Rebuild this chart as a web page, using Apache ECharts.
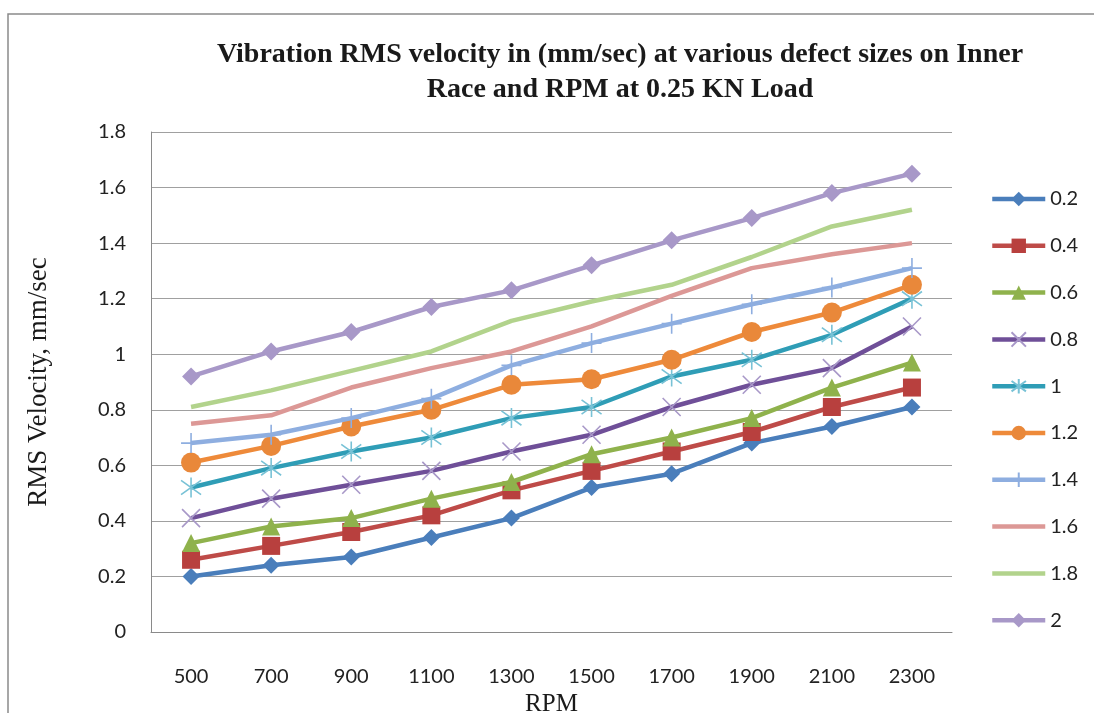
<!DOCTYPE html>
<html>
<head>
<meta charset="utf-8">
<title>Vibration RMS velocity</title>
<script src="https://cdn.jsdelivr.net/npm/echarts@6/dist/echarts.min.js"></script>
<style>
html, body { margin: 0; padding: 0; background: #fff; }
#main { width: 1094px; height: 713px; }
</style>
</head>
<body>
<div id="main"></div>
<script>
// RPM 分类
var rpm = ['500', '700', '900', '1100', '1300', '1500', '1700', '1900', '2100', '2300'];
var yTicks = [0, 0.2, 0.4, 0.6, 0.8, 1, 1.2, 1.4, 1.6, 1.8];

// 各缺陷尺寸的数据 (mm/sec)
var d02 = [0.20, 0.24, 0.27, 0.34, 0.41, 0.52, 0.57, 0.68, 0.74, 0.81];
var d04 = [0.26, 0.31, 0.36, 0.42, 0.51, 0.58, 0.65, 0.72, 0.81, 0.88];
var d06 = [0.32, 0.38, 0.41, 0.48, 0.54, 0.64, 0.70, 0.77, 0.88, 0.97];
var d08 = [0.41, 0.48, 0.53, 0.58, 0.65, 0.71, 0.81, 0.89, 0.95, 1.10];
var d10 = [0.52, 0.59, 0.65, 0.70, 0.77, 0.81, 0.92, 0.98, 1.07, 1.20];
var d12 = [0.61, 0.67, 0.74, 0.80, 0.89, 0.91, 0.98, 1.08, 1.15, 1.25];
var d14 = [0.68, 0.71, 0.77, 0.84, 0.96, 1.04, 1.11, 1.18, 1.24, 1.31];
var d16 = [0.75, 0.78, 0.88, 0.95, 1.01, 1.10, 1.21, 1.31, 1.36, 1.40];
var d18 = [0.81, 0.87, 0.94, 1.01, 1.12, 1.19, 1.25, 1.35, 1.46, 1.52];
var d20 = [0.92, 1.01, 1.08, 1.17, 1.23, 1.32, 1.41, 1.49, 1.58, 1.65];

var names = ['0.2', '0.4', '0.6', '0.8', '1', '1.2', '1.4', '1.6', '1.8', '2'];
var datas = [d02, d04, d06, d08, d10, d12, d14, d16, d18, d20];

// 线条颜色和标记颜色
var lineColors = ['#4a7ebb', '#be4b48', '#8fb24c', '#6f4f98', '#2f9db6', '#ee8a3a', '#8eaee0', '#dc9896', '#b2d38c', '#a898c8'];
var markColors = ['#4a7ebb', '#b8403e', '#8fb24c', '#a898c8', '#78c2d6', '#e9883a', '#8eaee0', '#dc9896', '#b2d38c', '#a898c8'];

var crossPath = 'path://M0 0 L10 10 M10 0 L0 10';
var starPath = 'path://M0 0 L10 10 M10 0 L0 10 M5 -2 L5 12';
var plusPath = 'path://M5 0 L5 10 M0 5 L10 5';
var symbols = ['diamond', 'rect', 'triangle', crossPath, starPath, 'circle', plusPath, 'none', 'none', 'diamond'];
var sizes = [17, 18, 18, 18, 20, 20, 20, 0, 0, 18];

// 没有标记的系列，图例里只画一条粗线
var plainLineIcon = 'path://M0 0 L0 0 M0 6.75 L53 6.75 L53 11.25 L0 11.25 Z M53 18 L53 18';

var series = [];
var legendData = [];
for (var i = 0; i < names.length; i++) {
    var isPath = symbols[i].indexOf('path://') === 0;
    series.push({
        name: names[i],
        type: 'line',
        data: datas[i],
        symbol: symbols[i],
        symbolSize: sizes[i],
        showAllSymbol: true,
        lineStyle: { color: lineColors[i], width: 4.5 },
        itemStyle: isPath ? {
            color: 'rgba(0,0,0,0)',
            borderColor: markColors[i],
            borderWidth: 1.6
        } : {
            color: markColors[i],
            borderColor: markColors[i],
            borderWidth: 0
        },
        emphasis: { disabled: true },
        z: 2 + i
    });
    if (symbols[i] === 'none') {
        legendData.push({ name: names[i], icon: plainLineIcon, itemStyle: { color: lineColors[i] } });
    } else {
        legendData.push(names[i]);
    }
}

var myChart = echarts.init(document.getElementById('main'));
var option = {
    backgroundColor: '#fff',
    animation: false,
    title: {
        text: 'Vibration RMS velocity in (mm/sec) at various defect sizes on Inner\nRace and RPM at 0.25 KN Load',
        left: 615,
        top: 32,
        textAlign: 'center',
        textStyle: {
            fontFamily: 'Liberation Serif',
            fontWeight: 'bold',
            fontSize: 28,
            lineHeight: 35,
            color: '#1a1a1a'
        }
    },
    legend: {
        orient: 'vertical',
        left: 990,
        top: 189,
        padding: 0,
        itemWidth: 53,
        itemHeight: 18,
        itemGap: 26.8,
        data: legendData,
        lineStyle: { width: 4.5 },
        textStyle: { fontFamily: 'Lato', fontSize: 20, color: '#222' }
    },
    grid: { left: 151, right: 142, top: 132, bottom: 81, outerBoundsMode: 'none' },
    xAxis: {
        type: 'category',
        data: rpm,
        boundaryGap: true,
        name: 'RPM',
        nameLocation: 'middle',
        nameGap: 44,
        nameTextStyle: { fontFamily: 'Liberation Serif', fontSize: 25, color: '#1a1a1a' },
        axisLine: { lineStyle: { color: '#8a8a8a', width: 1 } },
        axisTick: { show: false },
        axisLabel: { fontFamily: 'Lato', fontSize: 20, color: '#222', margin: 35 }
    },
    yAxis: {
        type: 'value',
        min: yTicks[0],
        max: yTicks[yTicks.length - 1],
        interval: 0.2,
        name: 'RMS Velocity, mm/sec',
        nameLocation: 'middle',
        nameRotate: 90,
        nameGap: 99,
        nameTextStyle: { fontFamily: 'Liberation Serif', fontSize: 27, color: '#1a1a1a' },
        axisLine: { show: true, lineStyle: { color: '#8a8a8a', width: 1 } },
        axisTick: { show: false },
        splitLine: { lineStyle: { color: '#a0a0a0', width: 1.2 } },
        axisLabel: { fontFamily: 'Lato', fontSize: 20, color: '#222', margin: 25 }
    },
    // 外边框
    graphic: [{
        type: 'rect',
        shape: { x: 8, y: 14, width: 1200, height: 800 },
        style: { fill: 'none', stroke: '#8a8a8a', lineWidth: 1.5 },
        silent: true
    }],
    series: series
};
myChart.setOption(option);
</script>
</body>
</html>
